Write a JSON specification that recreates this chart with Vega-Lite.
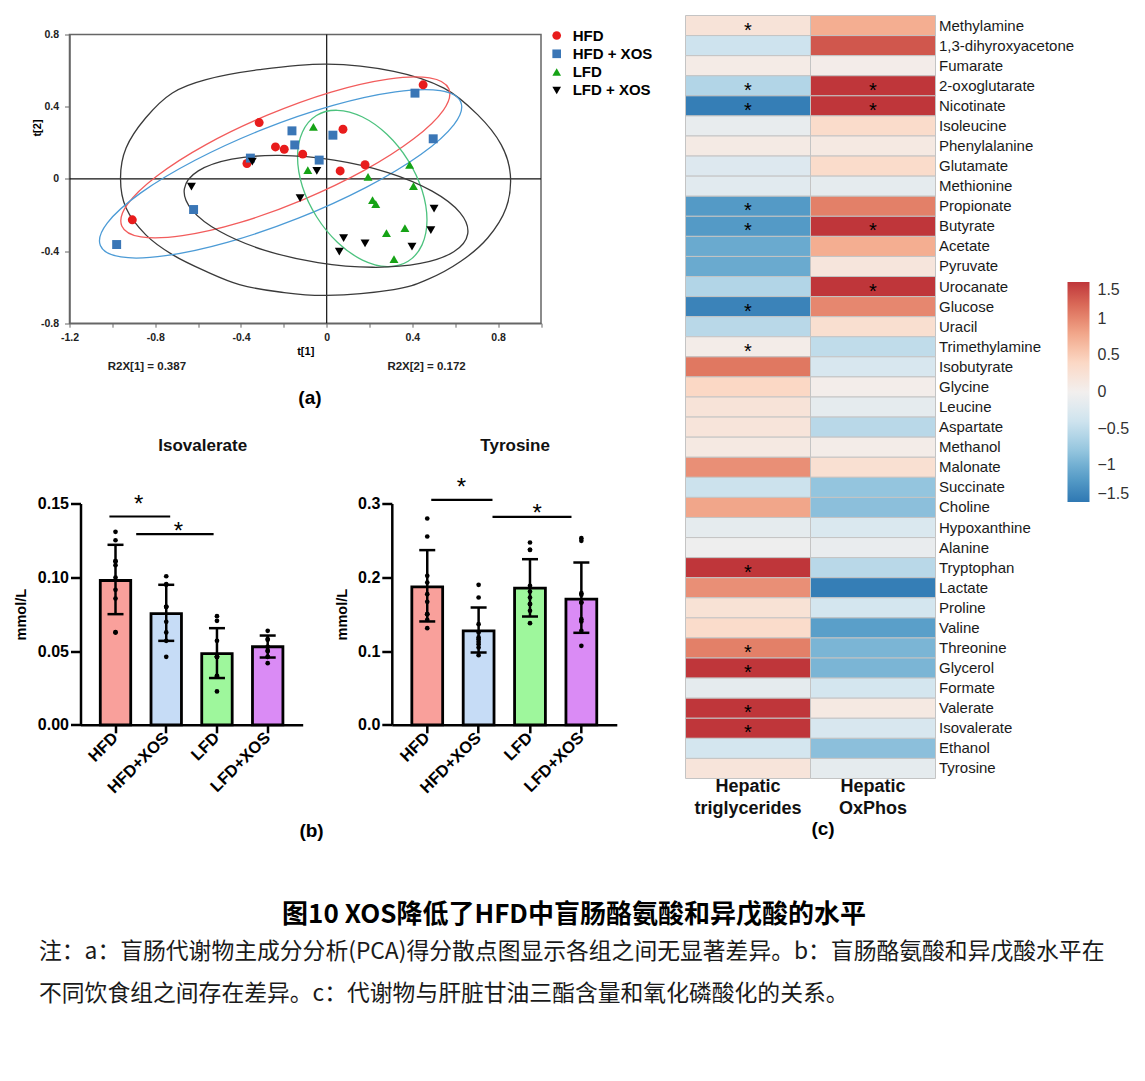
{
  "$schema": "https://vega.github.io/schema/vega-lite/v6.json",
  "padding": {"left": 13.5, "top": 13.5, "right": 5, "bottom": 5},
  "background": "#ffffff",
  "config": {
    "font": "Liberation Sans",
    "view": {"stroke": null},
    "axis": {"grid": false, "labelColor": "#000", "titleColor": "#000", "domainColor": "#000", "tickColor": "#000", "labelFlush": false, "labelOverlap": false},
    "title": {"color": "#000"}
  },
  "datasets": {
    "pca": [
      {"g": "HFD", "x": -0.907, "y": -0.227}, {"g": "HFD", "x": -0.315, "y": 0.312}, {"g": "HFD", "x": -0.372, "y": 0.085}, {"g": "HFD", "x": -0.239, "y": 0.177}, {"g": "HFD", "x": 0.45, "y": 0.521},
      {"g": "HFD", "x": 0.076, "y": 0.275}, {"g": "HFD", "x": -0.198, "y": 0.164}, {"g": "HFD", "x": -0.112, "y": 0.137}, {"g": "HFD", "x": 0.063, "y": 0.044}, {"g": "HFD", "x": 0.179, "y": 0.078},
      {"g": "HFD + XOS", "x": -0.98, "y": -0.364}, {"g": "HFD + XOS", "x": -0.621, "y": -0.17}, {"g": "HFD + XOS", "x": -0.356, "y": 0.115}, {"g": "HFD + XOS", "x": 0.412, "y": 0.475}, {"g": "HFD + XOS", "x": 0.497, "y": 0.222},
      {"g": "HFD + XOS", "x": -0.162, "y": 0.266}, {"g": "HFD + XOS", "x": -0.149, "y": 0.188}, {"g": "HFD + XOS", "x": 0.029, "y": 0.242}, {"g": "HFD + XOS", "x": -0.035, "y": 0.104},
      {"g": "LFD", "x": -0.062, "y": 0.288}, {"g": "LFD", "x": -0.088, "y": 0.048}, {"g": "LFD", "x": 0.193, "y": 0.011}, {"g": "LFD", "x": 0.387, "y": 0.078}, {"g": "LFD", "x": 0.405, "y": -0.041},
      {"g": "LFD", "x": 0.214, "y": -0.118}, {"g": "LFD", "x": 0.229, "y": -0.14}, {"g": "LFD", "x": 0.279, "y": -0.301}, {"g": "LFD", "x": 0.365, "y": -0.273}, {"g": "LFD", "x": 0.314, "y": -0.445},
      {"g": "LFD + XOS", "x": -0.631, "y": -0.043}, {"g": "LFD + XOS", "x": -0.347, "y": 0.096}, {"g": "LFD + XOS", "x": -0.046, "y": 0.044}, {"g": "LFD + XOS", "x": -0.124, "y": -0.107}, {"g": "LFD + XOS", "x": 0.501, "y": -0.165},
      {"g": "LFD + XOS", "x": 0.486, "y": -0.284}, {"g": "LFD + XOS", "x": 0.079, "y": -0.329}, {"g": "LFD + XOS", "x": 0.179, "y": -0.357}, {"g": "LFD + XOS", "x": 0.059, "y": -0.403}, {"g": "LFD + XOS", "x": 0.398, "y": -0.375}
    ],
    "ell": [
      {"e": "T2", "i": 1, "x": -0.962, "y": 0.004}, {"e": "T2", "i": 2, "x": -0.936, "y": 0.171}, {"e": "T2", "i": 3, "x": -0.845, "y": 0.337}, {"e": "T2", "i": 4, "x": -0.72, "y": 0.476},
      {"e": "T2", "i": 5, "x": -0.563, "y": 0.55}, {"e": "T2", "i": 6, "x": -0.313, "y": 0.605}, {"e": "T2", "i": 7, "x": 0.0, "y": 0.636}, {"e": "T2", "i": 8, "x": 0.313, "y": 0.596},
      {"e": "T2", "i": 9, "x": 0.547, "y": 0.503}, {"e": "T2", "i": 10, "x": 0.704, "y": 0.356}, {"e": "T2", "i": 11, "x": 0.814, "y": 0.19}, {"e": "T2", "i": 12, "x": 0.857, "y": 0.023},
      {"e": "T2", "i": 13, "x": 0.837, "y": -0.162}, {"e": "T2", "i": 14, "x": 0.751, "y": -0.328}, {"e": "T2", "i": 15, "x": 0.626, "y": -0.457}, {"e": "T2", "i": 16, "x": 0.469, "y": -0.559},
      {"e": "T2", "i": 17, "x": 0.313, "y": -0.614}, {"e": "T2", "i": 18, "x": 0.0, "y": -0.646}, {"e": "T2", "i": 19, "x": -0.219, "y": -0.627}, {"e": "T2", "i": 20, "x": -0.407, "y": -0.586},
      {"e": "T2", "i": 21, "x": -0.563, "y": -0.513}, {"e": "T2", "i": 22, "x": -0.72, "y": -0.42}, {"e": "T2", "i": 23, "x": -0.845, "y": -0.309}, {"e": "T2", "i": 24, "x": -0.936, "y": -0.162},
      {"e": "HFD", "i": 1, "x": 0.57, "y": 0.499}, {"e": "HFD", "i": 2, "x": 0.544, "y": 0.38}, {"e": "HFD", "i": 3, "x": 0.406, "y": 0.222}, {"e": "HFD", "i": 4, "x": 0.177, "y": 0.048},
      {"e": "HFD", "i": 5, "x": -0.109, "y": -0.115}, {"e": "HFD", "i": 6, "x": -0.407, "y": -0.243}, {"e": "HFD", "i": 7, "x": -0.673, "y": -0.315}, {"e": "HFD", "i": 8, "x": -0.866, "y": -0.322},
      {"e": "HFD", "i": 9, "x": -0.956, "y": -0.261}, {"e": "HFD", "i": 10, "x": -0.93, "y": -0.142}, {"e": "HFD", "i": 11, "x": -0.792, "y": 0.016}, {"e": "HFD", "i": 12, "x": -0.563, "y": 0.19},
      {"e": "HFD", "i": 13, "x": -0.277, "y": 0.353}, {"e": "HFD", "i": 14, "x": 0.021, "y": 0.481}, {"e": "HFD", "i": 15, "x": 0.287, "y": 0.553}, {"e": "HFD", "i": 16, "x": 0.48, "y": 0.56},
      {"e": "HFDX", "i": 1, "x": 0.626, "y": 0.425}, {"e": "HFDX", "i": 2, "x": 0.594, "y": 0.301}, {"e": "HFDX", "i": 3, "x": 0.439, "y": 0.135}, {"e": "HFDX", "i": 4, "x": 0.184, "y": -0.047},
      {"e": "HFDX", "i": 5, "x": -0.132, "y": -0.218}, {"e": "HFDX", "i": 6, "x": -0.46, "y": -0.351}, {"e": "HFDX", "i": 7, "x": -0.751, "y": -0.426}, {"e": "HFDX", "i": 8, "x": -0.96, "y": -0.433},
      {"e": "HFDX", "i": 9, "x": -1.056, "y": -0.369}, {"e": "HFDX", "i": 10, "x": -1.024, "y": -0.245}, {"e": "HFDX", "i": 11, "x": -0.869, "y": -0.079}, {"e": "HFDX", "i": 12, "x": -0.614, "y": 0.103},
      {"e": "HFDX", "i": 13, "x": -0.298, "y": 0.274}, {"e": "HFDX", "i": 14, "x": 0.03, "y": 0.407}, {"e": "HFDX", "i": 15, "x": 0.321, "y": 0.482}, {"e": "HFDX", "i": 16, "x": 0.53, "y": 0.489},
      {"e": "LFD", "i": 1, "x": 0.38, "y": -0.457}, {"e": "LFD", "i": 2, "x": 0.282, "y": -0.486}, {"e": "LFD", "i": 3, "x": 0.167, "y": -0.45}, {"e": "LFD", "i": 4, "x": 0.051, "y": -0.353},
      {"e": "LFD", "i": 5, "x": -0.047, "y": -0.21}, {"e": "LFD", "i": 6, "x": -0.113, "y": -0.044}, {"e": "LFD", "i": 7, "x": -0.136, "y": 0.122}, {"e": "LFD", "i": 8, "x": -0.113, "y": 0.26},
      {"e": "LFD", "i": 9, "x": -0.048, "y": 0.351}, {"e": "LFD", "i": 10, "x": 0.05, "y": 0.38}, {"e": "LFD", "i": 11, "x": 0.165, "y": 0.344}, {"e": "LFD", "i": 12, "x": 0.281, "y": 0.247},
      {"e": "LFD", "i": 13, "x": 0.379, "y": 0.104}, {"e": "LFD", "i": 14, "x": 0.445, "y": -0.063}, {"e": "LFD", "i": 15, "x": 0.468, "y": -0.228}, {"e": "LFD", "i": 16, "x": 0.445, "y": -0.366},
      {"e": "LFDX", "i": 1, "x": 0.658, "y": -0.305}, {"e": "LFDX", "i": 2, "x": 0.593, "y": -0.404}, {"e": "LFDX", "i": 3, "x": 0.437, "y": -0.469}, {"e": "LFDX", "i": 4, "x": 0.215, "y": -0.49},
      {"e": "LFDX", "i": 5, "x": -0.041, "y": -0.464}, {"e": "LFDX", "i": 6, "x": -0.292, "y": -0.395}, {"e": "LFDX", "i": 7, "x": -0.498, "y": -0.292}, {"e": "LFDX", "i": 8, "x": -0.628, "y": -0.173},
      {"e": "LFDX", "i": 9, "x": -0.664, "y": -0.055}, {"e": "LFDX", "i": 10, "x": -0.599, "y": 0.044}, {"e": "LFDX", "i": 11, "x": -0.443, "y": 0.109}, {"e": "LFDX", "i": 12, "x": -0.221, "y": 0.13},
      {"e": "LFDX", "i": 13, "x": 0.035, "y": 0.104}, {"e": "LFDX", "i": 14, "x": 0.286, "y": 0.035}, {"e": "LFDX", "i": 15, "x": 0.492, "y": -0.068}, {"e": "LFDX", "i": 16, "x": 0.622, "y": -0.187}
    ],
    "isoSum": [
      {"g": "HFD", "m": 0.0978, "lo": 0.075, "hi": 0.122},
      {"g": "HFD+XOS", "m": 0.0754, "lo": 0.0569, "hi": 0.0949},
      {"g": "LFD", "m": 0.0483, "lo": 0.0317, "hi": 0.0655},
      {"g": "LFD+XOS", "m": 0.0529, "lo": 0.0456, "hi": 0.0605}
    ],
    "isoPts": [
      {"g": "HFD", "v": 0.1308}, {"g": "HFD", "v": 0.1251}, {"g": "HFD", "v": 0.1109}, {"g": "HFD", "v": 0.1109}, {"g": "HFD", "v": 0.1082}, {"g": "HFD", "v": 0.0998}, {"g": "HFD", "v": 0.0915}, {"g": "HFD", "v": 0.0856}, {"g": "HFD", "v": 0.0625}, {"g": "HFD", "v": 0.0628},
      {"g": "HFD+XOS", "v": 0.1007}, {"g": "HFD+XOS", "v": 0.0953}, {"g": "HFD+XOS", "v": 0.0949}, {"g": "HFD+XOS", "v": 0.08}, {"g": "HFD+XOS", "v": 0.08}, {"g": "HFD+XOS", "v": 0.08}, {"g": "HFD+XOS", "v": 0.0698}, {"g": "HFD+XOS", "v": 0.0626}, {"g": "HFD+XOS", "v": 0.0569}, {"g": "HFD+XOS", "v": 0.0461},
      {"g": "LFD", "v": 0.0736}, {"g": "LFD", "v": 0.0705}, {"g": "LFD", "v": 0.0569}, {"g": "LFD", "v": 0.0461}, {"g": "LFD", "v": 0.0461}, {"g": "LFD", "v": 0.0461}, {"g": "LFD", "v": 0.0461}, {"g": "LFD", "v": 0.0332}, {"g": "LFD", "v": 0.0328}, {"g": "LFD", "v": 0.0226},
      {"g": "LFD+XOS", "v": 0.0637}, {"g": "LFD+XOS", "v": 0.0581}, {"g": "LFD+XOS", "v": 0.0576}, {"g": "LFD+XOS", "v": 0.0529}, {"g": "LFD+XOS", "v": 0.0529}, {"g": "LFD+XOS", "v": 0.0501}, {"g": "LFD+XOS", "v": 0.0501}, {"g": "LFD+XOS", "v": 0.0461}, {"g": "LFD+XOS", "v": 0.0461}, {"g": "LFD+XOS", "v": 0.0418}
    ],
    "tyrSum": [
      {"g": "HFD", "m": 0.187, "lo": 0.1401, "hi": 0.2368},
      {"g": "HFD+XOS", "m": 0.1274, "lo": 0.098, "hi": 0.159},
      {"g": "LFD", "m": 0.1852, "lo": 0.1468, "hi": 0.2245},
      {"g": "LFD+XOS", "m": 0.1703, "lo": 0.1247, "hi": 0.22}
    ],
    "tyrPts": [
      {"g": "HFD", "v": 0.2797}, {"g": "HFD", "v": 0.2553}, {"g": "HFD", "v": 0.202}, {"g": "HFD", "v": 0.1929}, {"g": "HFD", "v": 0.1771}, {"g": "HFD", "v": 0.1667}, {"g": "HFD", "v": 0.15}, {"g": "HFD", "v": 0.15}, {"g": "HFD", "v": 0.1423}, {"g": "HFD", "v": 0.131},
      {"g": "HFD+XOS", "v": 0.1898}, {"g": "HFD+XOS", "v": 0.1726}, {"g": "HFD+XOS", "v": 0.1364}, {"g": "HFD+XOS", "v": 0.1252}, {"g": "HFD+XOS", "v": 0.1184}, {"g": "HFD+XOS", "v": 0.1161}, {"g": "HFD+XOS", "v": 0.1125}, {"g": "HFD+XOS", "v": 0.1093}, {"g": "HFD+XOS", "v": 0.1048}, {"g": "HFD+XOS", "v": 0.0944},
      {"g": "LFD", "v": 0.2471}, {"g": "LFD", "v": 0.2372}, {"g": "LFD", "v": 0.2372}, {"g": "LFD", "v": 0.1884}, {"g": "LFD", "v": 0.1807}, {"g": "LFD", "v": 0.1726}, {"g": "LFD", "v": 0.1636}, {"g": "LFD", "v": 0.1636}, {"g": "LFD", "v": 0.1545}, {"g": "LFD", "v": 0.1378},
      {"g": "LFD+XOS", "v": 0.253}, {"g": "LFD+XOS", "v": 0.2494}, {"g": "LFD+XOS", "v": 0.1785}, {"g": "LFD+XOS", "v": 0.1762}, {"g": "LFD+XOS", "v": 0.1658}, {"g": "LFD+XOS", "v": 0.1658}, {"g": "LFD+XOS", "v": 0.1432}, {"g": "LFD+XOS", "v": 0.1401}, {"g": "LFD+XOS", "v": 0.1274}, {"g": "LFD+XOS", "v": 0.1071}
    ],
    "heat": [
      {"m": "Methylamine", "k": "Hepatic triglycerides", "v": 0.22, "s": "*"}, {"m": "Methylamine", "k": "Hepatic OxPhos", "v": 0.75, "s": ""},
      {"m": "1,3-dihyroxyacetone", "k": "Hepatic triglycerides", "v": -0.4, "s": ""}, {"m": "1,3-dihyroxyacetone", "k": "Hepatic OxPhos", "v": 1.3, "s": ""},
      {"m": "Fumarate", "k": "Hepatic triglycerides", "v": 0.08, "s": ""}, {"m": "Fumarate", "k": "Hepatic OxPhos", "v": 0.05, "s": ""},
      {"m": "2-oxoglutarate", "k": "Hepatic triglycerides", "v": -0.6, "s": "*"}, {"m": "2-oxoglutarate", "k": "Hepatic OxPhos", "v": 1.5, "s": "*"},
      {"m": "Nicotinate", "k": "Hepatic triglycerides", "v": -1.45, "s": "*"}, {"m": "Nicotinate", "k": "Hepatic OxPhos", "v": 1.5, "s": "*"},
      {"m": "Isoleucine", "k": "Hepatic triglycerides", "v": -0.12, "s": ""}, {"m": "Isoleucine", "k": "Hepatic OxPhos", "v": 0.35, "s": ""},
      {"m": "Phenylalanine", "k": "Hepatic triglycerides", "v": 0.1, "s": ""}, {"m": "Phenylalanine", "k": "Hepatic OxPhos", "v": 0.12, "s": ""},
      {"m": "Glutamate", "k": "Hepatic triglycerides", "v": -0.25, "s": ""}, {"m": "Glutamate", "k": "Hepatic OxPhos", "v": 0.35, "s": ""},
      {"m": "Methionine", "k": "Hepatic triglycerides", "v": -0.2, "s": ""}, {"m": "Methionine", "k": "Hepatic OxPhos", "v": -0.15, "s": ""},
      {"m": "Propionate", "k": "Hepatic triglycerides", "v": -1.2, "s": "*"}, {"m": "Propionate", "k": "Hepatic OxPhos", "v": 1.05, "s": ""},
      {"m": "Butyrate", "k": "Hepatic triglycerides", "v": -1.2, "s": "*"}, {"m": "Butyrate", "k": "Hepatic OxPhos", "v": 1.5, "s": "*"},
      {"m": "Acetate", "k": "Hepatic triglycerides", "v": -1.05, "s": ""}, {"m": "Acetate", "k": "Hepatic OxPhos", "v": 0.75, "s": ""},
      {"m": "Pyruvate", "k": "Hepatic triglycerides", "v": -1.05, "s": ""}, {"m": "Pyruvate", "k": "Hepatic OxPhos", "v": 0.18, "s": ""},
      {"m": "Urocanate", "k": "Hepatic triglycerides", "v": -0.6, "s": ""}, {"m": "Urocanate", "k": "Hepatic OxPhos", "v": 1.5, "s": "*"},
      {"m": "Glucose", "k": "Hepatic triglycerides", "v": -1.4, "s": "*"}, {"m": "Glucose", "k": "Hepatic OxPhos", "v": 1.0, "s": ""},
      {"m": "Uracil", "k": "Hepatic triglycerides", "v": -0.55, "s": ""}, {"m": "Uracil", "k": "Hepatic OxPhos", "v": 0.3, "s": ""},
      {"m": "Trimethylamine", "k": "Hepatic triglycerides", "v": 0.06, "s": "*"}, {"m": "Trimethylamine", "k": "Hepatic OxPhos", "v": -0.5, "s": ""},
      {"m": "Isobutyrate", "k": "Hepatic triglycerides", "v": 1.1, "s": ""}, {"m": "Isobutyrate", "k": "Hepatic OxPhos", "v": -0.3, "s": ""},
      {"m": "Glycine", "k": "Hepatic triglycerides", "v": 0.4, "s": ""}, {"m": "Glycine", "k": "Hepatic OxPhos", "v": 0.04, "s": ""},
      {"m": "Leucine", "k": "Hepatic triglycerides", "v": 0.22, "s": ""}, {"m": "Leucine", "k": "Hepatic OxPhos", "v": -0.15, "s": ""},
      {"m": "Aspartate", "k": "Hepatic triglycerides", "v": 0.2, "s": ""}, {"m": "Aspartate", "k": "Hepatic OxPhos", "v": -0.55, "s": ""},
      {"m": "Methanol", "k": "Hepatic triglycerides", "v": 0.12, "s": ""}, {"m": "Methanol", "k": "Hepatic OxPhos", "v": 0.06, "s": ""},
      {"m": "Malonate", "k": "Hepatic triglycerides", "v": 0.95, "s": ""}, {"m": "Malonate", "k": "Hepatic OxPhos", "v": 0.28, "s": ""},
      {"m": "Succinate", "k": "Hepatic triglycerides", "v": -0.42, "s": ""}, {"m": "Succinate", "k": "Hepatic OxPhos", "v": -0.8, "s": ""},
      {"m": "Choline", "k": "Hepatic triglycerides", "v": 0.8, "s": ""}, {"m": "Choline", "k": "Hepatic OxPhos", "v": -0.85, "s": ""},
      {"m": "Hypoxanthine", "k": "Hepatic triglycerides", "v": -0.15, "s": ""}, {"m": "Hypoxanthine", "k": "Hepatic OxPhos", "v": -0.28, "s": ""},
      {"m": "Alanine", "k": "Hepatic triglycerides", "v": -0.05, "s": ""}, {"m": "Alanine", "k": "Hepatic OxPhos", "v": -0.1, "s": ""},
      {"m": "Tryptophan", "k": "Hepatic triglycerides", "v": 1.5, "s": "*"}, {"m": "Tryptophan", "k": "Hepatic OxPhos", "v": -0.55, "s": ""},
      {"m": "Lactate", "k": "Hepatic triglycerides", "v": 0.95, "s": ""}, {"m": "Lactate", "k": "Hepatic OxPhos", "v": -1.45, "s": ""},
      {"m": "Proline", "k": "Hepatic triglycerides", "v": 0.25, "s": ""}, {"m": "Proline", "k": "Hepatic OxPhos", "v": -0.35, "s": ""},
      {"m": "Valine", "k": "Hepatic triglycerides", "v": 0.35, "s": ""}, {"m": "Valine", "k": "Hepatic OxPhos", "v": -1.15, "s": ""},
      {"m": "Threonine", "k": "Hepatic triglycerides", "v": 1.05, "s": "*"}, {"m": "Threonine", "k": "Hepatic OxPhos", "v": -0.95, "s": ""},
      {"m": "Glycerol", "k": "Hepatic triglycerides", "v": 1.5, "s": "*"}, {"m": "Glycerol", "k": "Hepatic OxPhos", "v": -0.95, "s": ""},
      {"m": "Formate", "k": "Hepatic triglycerides", "v": -0.15, "s": ""}, {"m": "Formate", "k": "Hepatic OxPhos", "v": -0.35, "s": ""},
      {"m": "Valerate", "k": "Hepatic triglycerides", "v": 1.5, "s": "*"}, {"m": "Valerate", "k": "Hepatic OxPhos", "v": 0.12, "s": ""},
      {"m": "Isovalerate", "k": "Hepatic triglycerides", "v": 1.5, "s": "*"}, {"m": "Isovalerate", "k": "Hepatic OxPhos", "v": -0.3, "s": ""},
      {"m": "Ethanol", "k": "Hepatic triglycerides", "v": -0.35, "s": ""}, {"m": "Ethanol", "k": "Hepatic OxPhos", "v": -0.85, "s": ""},
      {"m": "Tyrosine", "k": "Hepatic triglycerides", "v": 0.2, "s": ""}, {"m": "Tyrosine", "k": "Hepatic OxPhos", "v": -0.15, "s": ""}
    ]
  },
  "resolve": {"scale": {"color": "independent", "fill": "independent", "shape": "independent", "stroke": "independent"}},
  "spacing": 60,
  "vconcat": [
    {
      "resolve": {"scale": {"color": "independent", "fill": "independent", "shape": "independent", "stroke": "independent"}},
      "spacing": 17,
      "hconcat": [
        {
          "resolve": {"scale": {"color": "independent", "fill": "independent", "shape": "independent", "stroke": "independent"}},
          "spacing": 27,
          "vconcat": [
            {
              "width": 471.5,
              "height": 288.7,
              "view": {"stroke": "#666666", "strokeWidth": 1.5},
              "layer": [
                {
                  "data": {"values": [{"x": 0}]},
                  "mark": {"type": "rule", "color": "#111111", "strokeWidth": 1.2},
                  "encoding": {
                    "x": {"field": "x", "type": "quantitative", "scale": {"domain": [-1.2, 1.0], "nice": false, "zero": false},
                      "axis": {"values": [-1.2, -1, -0.8, -0.6, -0.4, -0.2, 0, 0.2, 0.4, 0.6, 0.8, 1],
                        "labelExpr": "round(datum.value*10) % 4 == 0 ? (datum.value < 0 ? '-' : '') + (datum.value == 0 ? '0' : format(abs(datum.value), '.1f')) : ''",
                        "title": "t[1]", "titleFontSize": 11, "titleFontWeight": "bold", "titlePadding": 3,
                        "labelFontSize": 10.5, "labelFontWeight": "bold", "labelPadding": 5, "tickSize": 4,
                        "domainColor": "#666666", "tickColor": "#666666", "domainWidth": 1.5, "labelColor": "#222222"}}
                  }
                },
                {
                  "data": {"values": [{"y": 0}]},
                  "mark": {"type": "rule", "color": "#111111", "strokeWidth": 1.2},
                  "encoding": {
                    "y": {"field": "y", "type": "quantitative", "scale": {"domain": [-0.8, 0.8], "nice": false, "zero": false},
                      "axis": {"values": [-0.8, -0.6, -0.4, -0.2, 0, 0.2, 0.4, 0.6, 0.8],
                        "labelExpr": "round(datum.value*10) % 4 == 0 ? (datum.value < 0 ? '-' : '') + (datum.value == 0 ? '0' : format(abs(datum.value), '.1f')) : ''",
                        "title": "t[2]", "titleFontSize": 11, "titleFontWeight": "bold", "titleX": -27, "titleY": 93,
                        "labelFontSize": 10.5, "labelFontWeight": "bold", "labelPadding": 6, "tickSize": 5,
                        "domainColor": "#666666", "tickColor": "#666666", "domainWidth": 1.5, "labelColor": "#222222"}}
                  }
                },
                {
                  "data": {"name": "ell"},
                  "mark": {"type": "line", "interpolate": "cardinal-closed", "strokeWidth": 1.3},
                  "encoding": {
                    "x": {"field": "x", "type": "quantitative", "scale": {"domain": [-1.2, 1.0], "nice": false, "zero": false}},
                    "y": {"field": "y", "type": "quantitative", "scale": {"domain": [-0.8, 0.8], "nice": false, "zero": false}},
                    "stroke": {"field": "e", "type": "nominal", "scale": {"domain": ["T2", "HFD", "HFDX", "LFD", "LFDX"], "range": ["#3a3a3a", "#f25c5c", "#4c9bd6", "#4cc27e", "#3a3a3a"]}, "legend": null},
                    "order": {"field": "i", "type": "quantitative"}
                  }
                },
                {
                  "data": {"name": "pca"},
                  "mark": {"type": "point", "filled": true, "size": 80, "opacity": 1},
                  "encoding": {
                    "x": {"field": "x", "type": "quantitative", "scale": {"domain": [-1.2, 1.0], "nice": false, "zero": false}},
                    "y": {"field": "y", "type": "quantitative", "scale": {"domain": [-0.8, 0.8], "nice": false, "zero": false}},
                    "color": {"field": "g", "type": "nominal",
                      "scale": {"domain": ["HFD", "HFD + XOS", "LFD", "LFD + XOS"], "range": ["#e81c1c", "#3a76b6", "#16a316", "#000000"]},
                      "legend": {"orient": "none", "legendX": 466.7, "legendY": -19.5, "title": null, "padding": 13, "labelFontSize": 15, "labelFontWeight": "bold", "labelColor": "#000000", "symbolSize": 75, "labelOffset": 8.5, "rowPadding": 2.3}},
                    "shape": {"field": "g", "type": "nominal",
                      "scale": {"domain": ["HFD", "HFD + XOS", "LFD", "LFD + XOS"], "range": ["circle", "square", "triangle-up", "triangle-down"]},
                      "legend": {"orient": "none", "legendX": 466.7, "legendY": -19.5, "title": null, "padding": 13, "labelFontSize": 15, "labelFontWeight": "bold", "labelColor": "#000000", "symbolSize": 75, "labelOffset": 8.5, "rowPadding": 2.3}}
                  }
                },
                {
                  "data": {"values": [{"x": -0.839, "y": -1.045, "t": "R2X[1] = 0.387"}, {"x": 0.466, "y": -1.045, "t": "R2X[2] = 0.172"}]},
                  "mark": {"type": "text", "fontSize": 11.5, "fontWeight": "bold", "color": "#222222", "baseline": "middle"},
                  "encoding": {
                    "x": {"field": "x", "type": "quantitative", "scale": {"domain": [-1.2, 1.0], "nice": false, "zero": false}},
                    "y": {"field": "y", "type": "quantitative", "scale": {"domain": [-0.8, 0.8], "nice": false, "zero": false}},
                    "text": {"field": "t"}
                  }
                },
                {
                  "data": {"values": [{"x": -0.078, "y": -1.217, "t": "(a)"}]},
                  "mark": {"type": "text", "fontSize": 19, "fontWeight": "bold", "color": "#000000", "baseline": "middle"},
                  "encoding": {
                    "x": {"field": "x", "type": "quantitative", "scale": {"domain": [-1.2, 1.0], "nice": false, "zero": false}},
                    "y": {"field": "y", "type": "quantitative", "scale": {"domain": [-0.8, 0.8], "nice": false, "zero": false}},
                    "text": {"field": "t"}
                  }
                }
              ]
            },
            {
              "resolve": {"scale": {"color": "independent", "fill": "independent", "shape": "independent", "stroke": "independent"}},
              "spacing": 88.3,
              "bounds": "flush",
              "hconcat": [
                {
                  "width": 233.2,
                  "height": 221.3,
                  "title": {"text": "Isovalerate", "fontSize": 17, "fontWeight": "bold", "offset": 38, "dx": 16.6, "color": "#111111"},
                  "layer": [
                    {
                      "data": {"name": "isoSum"},
                      "mark": {"type": "bar", "stroke": "#000000", "strokeWidth": 2.8, "opacity": 1},
                      "encoding": {
                        "x": {"field": "g", "type": "nominal", "scale": {"domain": ["HFD", "HFD+XOS", "LFD", "LFD+XOS"], "range": [11, 233.2], "paddingInner": 0.4, "paddingOuter": 0.39},
                          "axis": {"labelAngle": -45, "labelFontSize": 16.5, "labelFontWeight": "bold", "labelAlign": "right", "labelBaseline": "middle", "labelPadding": 2,
                            "tickSize": 8, "tickWidth": 2.5, "domainWidth": 2.5,
                            "title": "(b)", "titleFontSize": 19, "titleFontWeight": "bold", "titleX": 241.5, "titleY": 106, "titleBaseline": "middle", "titleAlign": "center"}},
                        "y": {"field": "m", "type": "quantitative", "scale": {"domain": [0, 0.15], "nice": false},
                          "axis": {"values": [0, 0.05, 0.1, 0.15], "format": ".2f", "labelFontSize": 16, "labelFontWeight": "bold", "labelPadding": 2, "offset": -11,
                            "tickSize": 10, "tickWidth": 2.5, "domainWidth": 2.5, "title": "mmol/L", "titleFontSize": 14.5, "titleFontWeight": "bold", "titlePadding": 8.5}},
                        "fill": {"field": "g", "type": "nominal", "scale": {"domain": ["HFD", "HFD+XOS", "LFD", "LFD+XOS"], "range": ["#f9a09b", "#c6dcf6", "#9ef79c", "#da8bf5"]}, "legend": null}
                      }
                    },
                    {
                      "data": {"name": "isoSum"},
                      "mark": {"type": "rule", "color": "#000000", "strokeWidth": 2.5},
                      "encoding": {
                        "x": {"field": "g", "type": "nominal"},
                        "y": {"field": "lo", "type": "quantitative"},
                        "y2": {"field": "hi"}
                      }
                    },
                    {
                      "data": {"name": "isoSum"},
                      "mark": {"type": "tick", "color": "#000000", "thickness": 2.5, "size": 16, "opacity": 1},
                      "encoding": {"x": {"field": "g", "type": "nominal"}, "y": {"field": "lo", "type": "quantitative"}}
                    },
                    {
                      "data": {"name": "isoSum"},
                      "mark": {"type": "tick", "color": "#000000", "thickness": 2.5, "size": 16, "opacity": 1},
                      "encoding": {"x": {"field": "g", "type": "nominal"}, "y": {"field": "hi", "type": "quantitative"}}
                    },
                    {
                      "data": {"name": "isoPts"},
                      "mark": {"type": "circle", "size": 22, "color": "#000000", "opacity": 1},
                      "encoding": {"x": {"field": "g", "type": "nominal"}, "y": {"field": "v", "type": "quantitative"}}
                    },
                    {
                      "data": {"values": [{"a": "HFD", "b": "HFD+XOS", "y": 0.1412}]},
                      "mark": {"type": "rule", "color": "#000000", "strokeWidth": 2.2},
                      "encoding": {"x": {"field": "a", "type": "nominal", "bandPosition": 0.3}, "x2": {"field": "b", "bandPosition": 0.63}, "y": {"field": "y", "type": "quantitative"}}
                    },
                    {
                      "data": {"values": [{"a": "HFD", "b": "LFD", "y": 0.1292}]},
                      "mark": {"type": "rule", "color": "#000000", "strokeWidth": 2.2},
                      "encoding": {"x": {"field": "a", "type": "nominal", "bandPosition": 1.18}, "x2": {"field": "b", "bandPosition": 0.39}, "y": {"field": "y", "type": "quantitative"}}
                    },
                    {
                      "data": {"values": [{"a": "HFD", "y": 0.1529, "s": "*"}]},
                      "mark": {"type": "text", "fontSize": 24, "baseline": "middle", "dy": 6, "color": "#000000"},
                      "encoding": {"x": {"field": "a", "type": "nominal", "bandPosition": 1.26}, "y": {"field": "y", "type": "quantitative"}, "text": {"field": "s"}}
                    },
                    {
                      "data": {"values": [{"a": "HFD+XOS", "y": 0.1349, "s": "*"}]},
                      "mark": {"type": "text", "fontSize": 24, "baseline": "middle", "dy": 6, "color": "#000000"},
                      "encoding": {"x": {"field": "a", "type": "nominal", "bandPosition": 0.9}, "y": {"field": "y", "type": "quantitative"}, "text": {"field": "s"}}
                    }
                  ]
                },
                {
                  "width": 225,
                  "height": 221.3,
                  "title": {"text": "Tyrosine", "fontSize": 17, "fontWeight": "bold", "offset": 21, "dx": 10.8, "color": "#111111"},
                  "layer": [
                    {
                      "data": {"name": "tyrSum"},
                      "mark": {"type": "bar", "stroke": "#000000", "strokeWidth": 2.8, "opacity": 1},
                      "encoding": {
                        "x": {"field": "g", "type": "nominal", "scale": {"domain": ["HFD", "HFD+XOS", "LFD", "LFD+XOS"], "paddingInner": 0.4, "paddingOuter": 0.39},
                          "axis": {"labelAngle": -45, "labelFontSize": 16.5, "labelFontWeight": "bold", "labelAlign": "right", "labelBaseline": "middle", "labelPadding": 2,
                            "tickSize": 8, "tickWidth": 2.5, "domainWidth": 2.5, "title": null}},
                        "y": {"field": "m", "type": "quantitative", "scale": {"domain": [0, 0.3], "nice": false},
                          "axis": {"values": [0, 0.1, 0.2, 0.3], "format": ".1f", "labelFontSize": 16, "labelFontWeight": "bold", "labelPadding": 2,
                            "tickSize": 10, "tickWidth": 2.5, "domainWidth": 2.5, "title": "mmol/L", "titleFontSize": 14.5, "titleFontWeight": "bold", "titlePadding": 8.5}},
                        "fill": {"field": "g", "type": "nominal", "scale": {"domain": ["HFD", "HFD+XOS", "LFD", "LFD+XOS"], "range": ["#f9a09b", "#c6dcf6", "#9ef79c", "#da8bf5"]}, "legend": null}
                      }
                    },
                    {
                      "data": {"name": "tyrSum"},
                      "mark": {"type": "rule", "color": "#000000", "strokeWidth": 2.5},
                      "encoding": {
                        "x": {"field": "g", "type": "nominal"},
                        "y": {"field": "lo", "type": "quantitative"},
                        "y2": {"field": "hi"}
                      }
                    },
                    {
                      "data": {"name": "tyrSum"},
                      "mark": {"type": "tick", "color": "#000000", "thickness": 2.5, "size": 16, "opacity": 1},
                      "encoding": {"x": {"field": "g", "type": "nominal"}, "y": {"field": "lo", "type": "quantitative"}}
                    },
                    {
                      "data": {"name": "tyrSum"},
                      "mark": {"type": "tick", "color": "#000000", "thickness": 2.5, "size": 16, "opacity": 1},
                      "encoding": {"x": {"field": "g", "type": "nominal"}, "y": {"field": "hi", "type": "quantitative"}}
                    },
                    {
                      "data": {"name": "tyrPts"},
                      "mark": {"type": "circle", "size": 22, "color": "#000000", "opacity": 1},
                      "encoding": {"x": {"field": "g", "type": "nominal"}, "y": {"field": "v", "type": "quantitative"}}
                    },
                    {
                      "data": {"values": [{"a": "HFD", "b": "HFD+XOS", "y": 0.305}]},
                      "mark": {"type": "rule", "color": "#000000", "strokeWidth": 2.2},
                      "encoding": {"x": {"field": "a", "type": "nominal", "bandPosition": 0.63}, "x2": {"field": "b", "bandPosition": 0.95}, "y": {"field": "y", "type": "quantitative"}}
                    },
                    {
                      "data": {"values": [{"a": "HFD+XOS", "b": "LFD+XOS", "y": 0.282}]},
                      "mark": {"type": "rule", "color": "#000000", "strokeWidth": 2.2},
                      "encoding": {"x": {"field": "a", "type": "nominal", "bandPosition": 0.95}, "x2": {"field": "b", "bandPosition": 0.18}, "y": {"field": "y", "type": "quantitative"}}
                    },
                    {
                      "data": {"values": [{"a": "HFD", "y": 0.3285, "s": "*"}]},
                      "mark": {"type": "text", "fontSize": 24, "baseline": "middle", "dy": 6, "color": "#000000"},
                      "encoding": {"x": {"field": "a", "type": "nominal", "bandPosition": 1.61}, "y": {"field": "y", "type": "quantitative"}, "text": {"field": "s"}}
                    },
                    {
                      "data": {"values": [{"a": "LFD", "y": 0.2937, "s": "*"}]},
                      "mark": {"type": "text", "fontSize": 24, "baseline": "middle", "dy": 6, "color": "#000000"},
                      "encoding": {"x": {"field": "a", "type": "nominal", "bandPosition": 0.73}, "y": {"field": "y", "type": "quantitative"}, "text": {"field": "s"}}
                    }
                  ]
                }
              ]
            }
          ]
        },
        {
          "width": 250,
          "height": 744,
          "data": {"name": "heat"},
          "encoding": {
            "x": {"field": "k", "type": "nominal", "scale": {"domain": ["Hepatic triglycerides", "Hepatic OxPhos"], "paddingInner": 0, "paddingOuter": 0},
              "axis": {"orient": "bottom", "labelExpr": "split(datum.label, ' ')", "labelFontSize": 18, "labelFontWeight": "bold", "labelLineHeight": 22, "labelPadding": -1,
                "labelAngle": 0, "labelBaseline": "top", "ticks": false, "domain": false, "labelColor": "#111111",
                "title": "(c)", "titleFontSize": 19, "titleFontWeight": "bold", "titleX": 137, "titleY": 50, "titleBaseline": "middle", "titleAlign": "center"}},
            "y": {"field": "m", "type": "nominal", "sort": null, "scale": {"range": [-19, 744], "paddingInner": 0, "paddingOuter": 0},
              "axis": {"orient": "right", "title": null, "ticks": false, "domain": false, "labelPadding": 3, "labelFontSize": 15, "labelColor": "#1a1a1a"}}
          },
          "layer": [
            {
              "mark": {"type": "rect", "stroke": "#c4c4c4", "strokeWidth": 1},
              "encoding": {
                "color": {"field": "v", "type": "quantitative",
                  "scale": {"domain": [-1.5, 1.5], "scheme": {"name": "redblue", "extent": [0.9, 0.1]}},
                  "legend": {"orient": "none", "legendX": 382, "legendY": 247.5, "direction": "vertical", "gradientLength": 220, "gradientThickness": 22,
                    "title": null, "values": [-1.5, -1, -0.5, 0, 0.5, 1, 1.5], "format": ".1~f", "labelFontSize": 16, "labelColor": "#333333",
                    "labelOffset": 8, "gradientStrokeWidth": 0, "padding": 0, "labelFlush": false, "labelOverlap": false}}
              }
            },
            {
              "mark": {"type": "text", "fontSize": 20, "baseline": "middle", "dy": 5, "color": "#000000"},
              "encoding": {"text": {"field": "s"}}
            }
          ]
        }
      ]
    },
    {
      "width": 1009,
      "height": 84,
      "title": {"text": "图10 XOS降低了HFD中盲肠酪氨酸和异戊酸的水平", "font": "Noto Sans CJK SC", "fontSize": 26, "fontWeight": "bold", "anchor": "middle", "offset": 3, "color": "#000000"},
      "data": {"values": [
        {"n": 1, "t": "注：a：盲肠代谢物主成分分析(PCA)得分散点图显示各组之间无显著差异。b：盲肠酪氨酸和异戊酸水平在"},
        {"n": 2, "t": "不同饮食组之间存在差异。c：代谢物与肝脏甘油三酯含量和氧化磷酸化的关系。"}
      ]},
      "mark": {"type": "text", "align": "left", "baseline": "middle", "font": "Noto Sans CJK SC", "fontSize": 22.8, "color": "#1a1a1a"},
      "encoding": {
        "y": {"field": "n", "type": "ordinal", "axis": null},
        "x": {"value": -30.5},
        "text": {"field": "t"}
      }
    }
  ]
}
